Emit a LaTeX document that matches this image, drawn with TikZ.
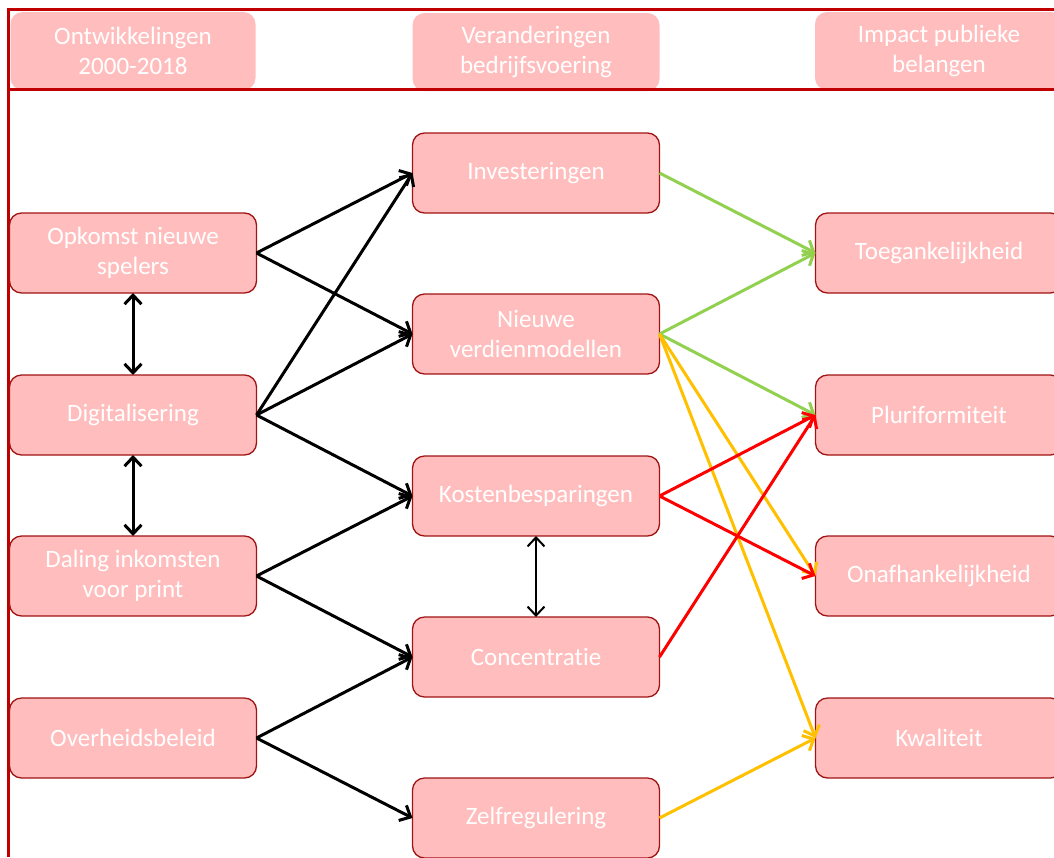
\documentclass[tikz,border=0pt]{standalone}
\usepackage{fontspec}
\setmainfont{Carlito}[Ligatures={NoCommon}]
\usetikzlibrary{arrows.meta}

\definecolor{boxfill}{RGB}{255,189,189}
\definecolor{boxline}{RGB}{160,20,20}
\definecolor{framered}{RGB}{192,0,0}
\definecolor{posgreen}{RGB}{146,208,80}
\definecolor{mixyellow}{RGB}{255,192,0}
\definecolor{negred}{RGB}{255,0,0}

\begin{document}
\begin{tikzpicture}[x=1pt,y=-1pt]
            \tikzstyle{factor}=[draw=boxline,line width=1.3pt,fill=boxfill,rounded corners=12pt,
                align=center,text=white,font=\fontsize{25}{30}\selectfont,
                minimum width=247pt,minimum height=80pt,inner sep=0pt,outer sep=0pt]
            \tikzstyle{header}=[factor,draw=none,minimum height=78pt]
            \tikzstyle{link}=[line width=3pt,-{Straight Barb[length=9pt,width=17pt]}]
            \tikzstyle{both}=[line width=3pt,{Straight Barb[length=9pt,width=17pt]}-{Straight Barb[length=9pt,width=17pt]}]

            \useasboundingbox (0,0) rectangle (1054,857);

            % kopjes
            \node (H1) at (133,51) [header,minimum width=245pt] {Ontwikkelingen\\2000-2018};
            \node (H2) at (536,52) [header] {Veranderingen\\bedrijfsvoering};
            \node (H3) at (939,51) [header,minimum width=248pt] {Impact publieke\\belangen};

            \draw[framered,line width=3pt] (8,857) -- (8,9) -- (1060,9);
            \draw[framered,line width=3pt] (8,89) -- (1060,89);

            % ontwikkelingen
            \node (O) at (133,253) [factor] {Opkomst nieuwe\\spelers};
            \node (D) at (133,415) [factor] {Digitalisering};
            \node (P) at (133,576) [factor] {Daling inkomsten\\voor print};
            \node (B) at (133,738) [factor] {Overheidsbeleid};

            % bedrijfsvoering
            \node (I) at (536,173) [factor] {Investeringen};
            \node (N) at (536,334) [factor] {Nieuwe\\verdienmodellen};
            \node (K) at (536,496) [factor] {Kostenbesparingen};
            \node (C) at (536,657) [factor] {Concentratie};
            \node (Z) at (536,818) [factor] {Zelfregulering};

            % publieke belangen
            \node (T) at (939,253) [factor] {Toegankelijkheid};
            \node (Pl) at (939,415) [factor] {Pluriformiteit};
            \node (On) at (939,576) [factor] {Onafhankelijkheid};
            \node (Kw) at (939,738) [factor] {Kwaliteit};

            \draw[link] (O.east) to (I.west);
            \draw[link] (O.east) to (N.west);
            \draw[link] (D.east) to (I.west);
            \draw[link] (D.east) to (N.west);
            \draw[link] (D.east) to (K.west);
            \draw[link] (P.east) to (K.west);
            \draw[link] (P.east) to (C.west);
            \draw[link] (B.east) to (C.west);
            \draw[link] (B.east) to (Z.west);

            \draw[both] (O.south) to (D.north);
            \draw[both] (D.south) to (P.north);
            \draw[both,line width=2pt] (K.south) to (C.north);

            \draw[link, posgreen] (I.east) to (T.west);
            \draw[link, posgreen] (N.east) to (T.west);
            \draw[link, posgreen] (N.east) to (Pl.west);
            \draw[link, mixyellow] (N.east) to (On.west);
            \draw[link, mixyellow] (N.east) to (Kw.west);
            \draw[link, mixyellow] (Z.east) to (Kw.west);
            \draw[link, negred] (K.east) to (Pl.west);
            \draw[link, negred] (K.east) to (On.west);
            \draw[link, negred] (C.east) to (Pl.west);
          \end{tikzpicture}
\end{document}
